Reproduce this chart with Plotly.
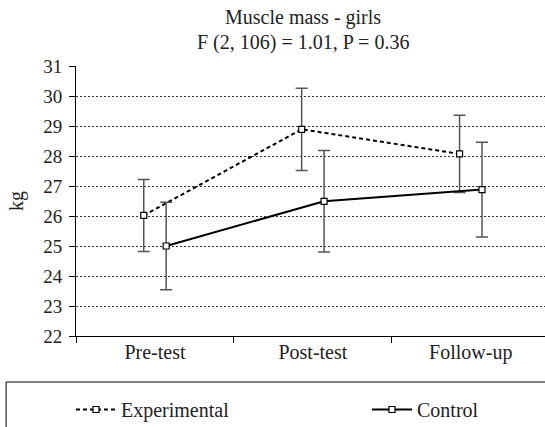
import plotly.graph_objects as go

categories = ["Pre-test", "Post-test", "Follow-up"]
exp_mean = [26.02, 28.89, 28.07]
exp_err = [1.20, 1.37, 1.29]
ctrl_mean = [25.00, 26.49, 26.88]
ctrl_err = [1.46, 1.69, 1.58]
y_ticks = [22, 23, 24, 25, 26, 27, 28, 29, 30, 31]
title_lines = ["Muscle mass - girls", "F (2, 106) = 1.01, P = 0.36"]

FONT = "Liberation Serif"
TXT = "#222"
offset = 0.071
xpos = list(range(len(categories)))
XR = [-0.5, 2.47]

fig = go.Figure()
fig.add_trace(go.Scatter(
    x=[i - offset for i in xpos], y=exp_mean, name="Experimental",
    mode="lines+markers", legend="legend",
    line=dict(color="black", width=2, dash="4px,3px"),
    marker=dict(symbol="square", size=6, color="white", line=dict(color="black", width=1.2)),
    error_y=dict(type="data", array=exp_err, color="#555", thickness=1.5, width=6),
))
fig.add_trace(go.Scatter(
    x=[i + offset for i in xpos], y=ctrl_mean, name="Control",
    mode="lines+markers", legend="legend2",
    line=dict(color="black", width=2),
    marker=dict(symbol="square", size=6, color="white", line=dict(color="black", width=1.2)),
    error_y=dict(type="data", array=ctrl_err, color="#555", thickness=1.5, width=6),
))
fig.add_trace(go.Scatter(x=xpos, y=[None]*3, xaxis="x2", showlegend=False, hoverinfo="skip"))

fig.update_layout(
    width=545, height=427, autosize=False,
    margin=dict(l=76, r=0, t=66, b=91, autoexpand=False),
    paper_bgcolor="white", plot_bgcolor="white",
    font=dict(family=FONT, size=20, color=TXT),
    annotations=[
        dict(text=title_lines[0], xref="paper", yref="paper", x=0.485, y=1.178,
             xanchor="center", yanchor="middle", showarrow=False,
             font=dict(family=FONT, size=20, color=TXT)),
        dict(text=title_lines[1], xref="paper", yref="paper", x=0.485, y=1.087,
             xanchor="center", yanchor="middle", showarrow=False,
             font=dict(family=FONT, size=20, color=TXT)),
    ],
    xaxis=dict(range=XR, tickvals=[-0.5, 0.5, 1.5, 2.5], ticktext=["", "", "", ""],
               ticks="outside", ticklen=6, tickcolor="black", tickwidth=1,
               showline=True, linecolor="black", linewidth=1, showgrid=False,
               zeroline=False, automargin=False),
    xaxis2=dict(range=XR, overlaying="x", side="bottom", anchor="y",
                tickvals=xpos, ticktext=categories, ticks="", showline=False,
                showgrid=False, zeroline=False, ticklabelstandoff=2, automargin=False,
                tickfont=dict(family=FONT, size=20, color=TXT)),
    yaxis=dict(range=[22, 31], tickvals=y_ticks, ticks="outside", ticklen=6,
               tickcolor="black", showline=True, linecolor="black", linewidth=1,
               showgrid=True, gridcolor="#333", griddash="2px,2px", gridwidth=1,
               zeroline=False, automargin=False, ticklabelstandoff=3,
               tickfont=dict(family=FONT, size=19, color=TXT),
               title=dict(text="kg", standoff=14, font=dict(family=FONT, size=20, color=TXT))),
    legend=dict(orientation="h", x=(71 - 76) / 469, xanchor="left", y=-0.20, yanchor="top",
                itemwidth=40,
                font=dict(family=FONT, size=20, color=TXT), bgcolor="rgba(0,0,0,0)"),
    legend2=dict(orientation="h", x=(367 - 76) / 469, xanchor="left", y=-0.20, yanchor="top",
                 itemwidth=40,
                 font=dict(family=FONT, size=20, color=TXT), bgcolor="rgba(0,0,0,0)"),
    shapes=[dict(type="rect", xref="paper", yref="paper", x0=-0.149, x1=1.2,
                 y0=-0.6, y1=-0.1704, line=dict(color="black", width=1),
                 fillcolor="rgba(0,0,0,0)", layer="below")],
)
fig.write_html("out.html")
